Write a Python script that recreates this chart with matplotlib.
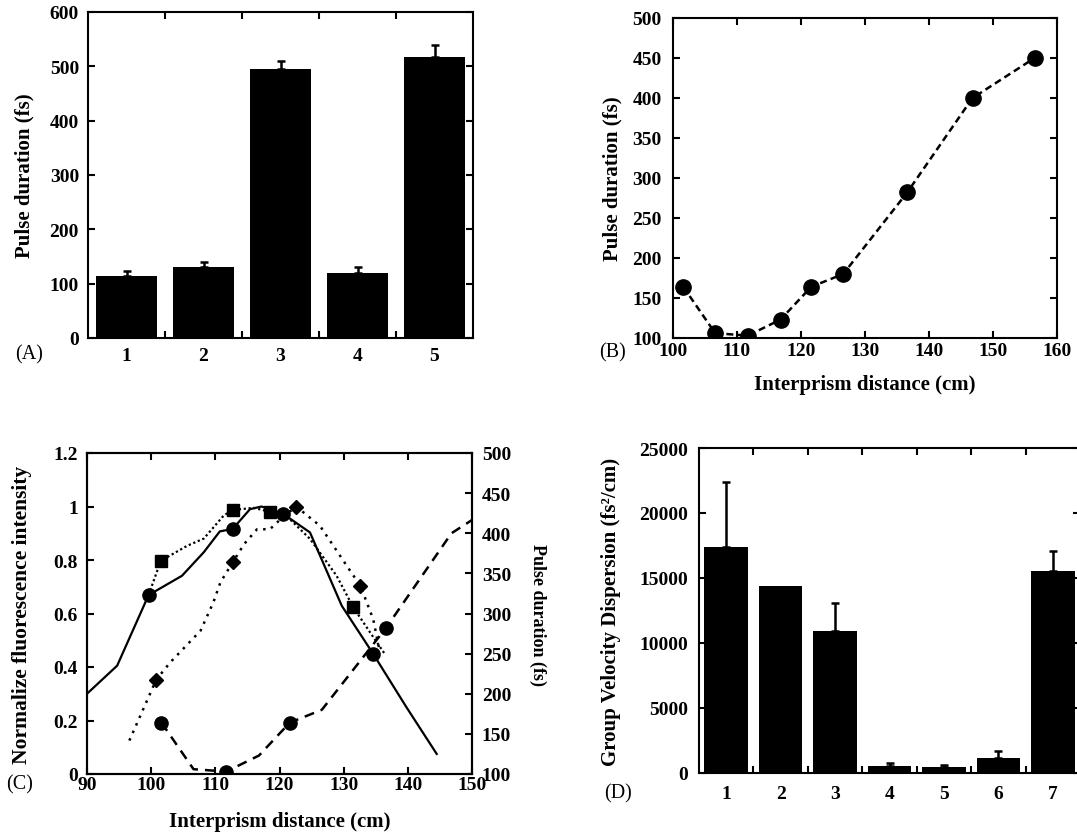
import matplotlib
matplotlib.use('Agg')
import matplotlib.pyplot as plt
from matplotlib.ticker import FixedLocator, FuncFormatter

plt.rcParams['font.family'] = ['Liberation Serif', 'DejaVu Serif']
plt.rcParams['font.weight'] = 'bold'
plt.rcParams['axes.labelweight'] = 'bold'
plt.rcParams['axes.linewidth'] = 1.5

# (A) pulse duration for each condition
a_cond = [1, 2, 3, 4, 5]
a_pulse = [114, 130, 495, 120, 518]
a_err = [9, 10, 15, 11, 21]

# (B) pulse duration vs interprism distance
b_dist = [101.6, 106.6, 111.7, 116.8, 121.6, 126.6, 136.6, 146.8, 156.5]
b_pulse = [164, 106, 103, 123, 164, 180, 282, 400, 450]
b_marks_c = [0, 2, 4, 6]   # points marked again in panel C

# (C) normalized fluorescence intensity, three curves
c1_dist = [90, 94.7, 99.6, 104.8, 108.2, 110.7, 112.7, 115.4, 117.2, 120.6,
           124.75, 129.7, 134.6, 139.8, 144.5]
c1_int = [0.30, 0.405, 0.669, 0.741, 0.829, 0.907, 0.916, 0.99, 1.0, 0.972,
          0.903, 0.629, 0.449, 0.249, 0.075]
c1_marks = [2, 6, 9, 12]

c2_dist = [99.6, 101.5, 105.6, 108.2, 111.3, 112.7, 116.0, 118.5, 121.6,
           124.75, 128.9, 131.5, 134.1, 136.4]
c2_int = [0.669, 0.797, 0.853, 0.88, 0.966, 0.987, 0.995, 0.98, 0.953,
          0.879, 0.741, 0.623, 0.53, 0.449]
c2_marks = [1, 5, 7, 11]

c3_dist = [96.6, 100.8, 103.0, 107.7, 109.7, 110.8, 112.7, 114.5, 116.5,
           118.5, 120.5, 122.6, 126.3, 131.0, 132.6, 134.6, 135.6]
c3_int = [0.125, 0.353, 0.418, 0.536, 0.642, 0.717, 0.791, 0.86, 0.915,
          0.915, 0.96, 1.0, 0.928, 0.76, 0.704, 0.579, 0.46]
c3_marks = [1, 6, 11, 14]

# (D) group velocity dispersion for each condition
d_cond = [1, 2, 3, 4, 5, 6, 7]
d_gvd = [17420, 14370, 10910, 510, 440, 1150, 15520]
d_err = [4940, 0, 2180, 280, 200, 540, 1590]

W, H = 1077, 837


def px_axes(l, t, r, b):
    return [l / W, 1 - b / H, (r - l) / W, (b - t) / H]


def style_ticks(ax, pad_x, pad_y):
    ax.tick_params(which='both', direction='in', width=1.5, labelsize=14)
    ax.tick_params(which='major', length=5)
    ax.tick_params(which='minor', length=5)
    ax.tick_params(axis='x', pad=pad_x)
    ax.tick_params(axis='y', pad=pad_y)


fmt_g = FuncFormatter(lambda v, p: '%g' % v)

fig = plt.figure(figsize=(W / 100, H / 100), dpi=100)

# ---- panel A
ax_a = fig.add_axes(px_axes(88, 13, 473, 339))
ax_a.bar(a_cond, a_pulse, width=0.78, color='black')
ax_a.errorbar(a_cond, a_pulse, yerr=[[0] * len(a_err), a_err], fmt='none',
              ecolor='black', elinewidth=1.8, capsize=3, capthick=1.8)
ax_a.set_xlim(0.5, 5.5)
ax_a.set_ylim(0, 600)
ax_a.xaxis.set_major_locator(FixedLocator(a_cond))
ax_a.xaxis.set_minor_locator(FixedLocator([1.5, 2.5, 3.5, 4.5]))
ax_a.yaxis.set_major_locator(FixedLocator(range(0, 601, 100)))
style_ticks(ax_a, 6.5, 6.5)
ax_a.tick_params(axis='x', which='major', length=0)
ax_a.tick_params(which='both', top=True, right=True)
ax_a.set_ylabel('Pulse duration (fs)', fontsize=15)
ax_a.yaxis.set_label_coords(-0.164, 0.5)
ax_a.yaxis.label.set_va('center')

# ---- panel B
ax_b = fig.add_axes(px_axes(673, 19, 1057, 339))
ax_b.plot(b_dist, b_pulse, color='black', lw=1.8, ls=(0, (2.8, 1.7)),
          marker='o', ms=11, zorder=3)
ax_b.set_xlim(100, 160)
ax_b.set_ylim(100, 500)
ax_b.xaxis.set_major_locator(FixedLocator(range(100, 161, 10)))
ax_b.yaxis.set_major_locator(FixedLocator(range(100, 501, 50)))
style_ticks(ax_b, 3, 8)
ax_b.tick_params(which='both', top=True, right=True)
ax_b.set_ylabel('Pulse duration (fs)', fontsize=15)
ax_b.yaxis.set_label_coords((612 - 673) / 384, 0.5)
ax_b.yaxis.label.set_va('center')
ax_b.set_xlabel('Interprism distance (cm)', fontsize=15)
ax_b.xaxis.set_label_coords(0.5, -(385 - 339) / 320)
ax_b.xaxis.label.set_va('center')

# ---- panel C
ax_c = fig.add_axes(px_axes(87, 454, 472, 775))
ax_c.plot(c1_dist, c1_int, color='black', lw=1.6, ls='-',
          marker='o', ms=9.5, markevery=c1_marks, zorder=3)
ax_c.plot(c2_dist, c2_int, color='black', lw=1.6, ls=(0, (1, 1.2)),
          marker='s', ms=9, markevery=c2_marks, zorder=3)
ax_c.plot(c3_dist, c3_int, color='black', lw=1.8, ls=(0, (1, 2.3)),
          marker='D', ms=7, markevery=c3_marks, zorder=3)
ax_c.set_xlim(90, 150)
ax_c.set_ylim(0, 1.2)
ax_c.xaxis.set_major_locator(FixedLocator(range(90, 151, 10)))
ax_c.yaxis.set_major_locator(FixedLocator([0, 0.2, 0.4, 0.6, 0.8, 1.0, 1.2]))
ax_c.yaxis.set_major_formatter(fmt_g)
style_ticks(ax_c, 1.5, 6.5)
ax_c.tick_params(axis='x', top=True)
ax_c.set_ylabel('Normalize fluorescence intensity', fontsize=15.5)
ax_c.yaxis.set_label_coords((22 - 87) / 385, 0.5)
ax_c.yaxis.label.set_va('center')
ax_c.set_xlabel('Interprism distance (cm)', fontsize=15)
ax_c.xaxis.set_label_coords(0.5, -(822 - 775) / 321)
ax_c.xaxis.label.set_va('center')

ax_c2 = ax_c.twinx()
ax_c2.plot(b_dist, b_pulse, color='black', lw=1.8, ls=(0, (4, 2.8)),
           marker='o', ms=9.5, markevery=b_marks_c, zorder=3)
ax_c2.set_ylim(100, 500)
ax_c2.yaxis.set_major_locator(FixedLocator(range(100, 501, 50)))
style_ticks(ax_c2, 1.5, 7)
ax_c2.set_ylabel('Pulse duration (fs)', fontsize=13, rotation=-90)
ax_c2.yaxis.set_label_coords((538 - 87) / 385, 0.5)
ax_c2.yaxis.label.set_va('center')

# ---- panel D (right edge runs past the figure, as in the scan)
ax_d = fig.add_axes(px_axes(699, 449, 1080, 774))
ax_d.bar(d_cond, d_gvd, width=0.8, color='black')
d_idx = [i for i, e in enumerate(d_err) if e > 0]
ax_d.errorbar([d_cond[i] for i in d_idx], [d_gvd[i] for i in d_idx],
              yerr=[[0] * len(d_idx), [d_err[i] for i in d_idx]], fmt='none',
              ecolor='black', elinewidth=1.8, capsize=3, capthick=1.8)
ax_d.set_xlim(0.5, 7.5)
ax_d.set_ylim(0, 25000)
ax_d.xaxis.set_major_locator(FixedLocator(d_cond))
ax_d.xaxis.set_minor_locator(FixedLocator([1.5, 2.5, 3.5, 4.5, 5.5, 6.5]))
ax_d.yaxis.set_major_locator(FixedLocator(range(0, 25001, 5000)))
style_ticks(ax_d, 9, 8)
ax_d.tick_params(axis='x', which='major', length=0)
ax_d.tick_params(which='both', top=True, right=True)
ax_d.set_ylabel('Group Velocity Dispersion (fs\u00b2/cm)', fontsize=15)
ax_d.yaxis.set_label_coords((611 - 699) / 381, 0.5)
ax_d.yaxis.label.set_va('center')

# panel letters
for lab, x, y in [('(A)', 29, 355), ('(B)', 613, 353), ('(C)', 20, 785), ('(D)', 618, 794)]:
    fig.text(x / W, 1 - y / H, lab, fontsize=14.5, fontweight='normal',
             ha='center', va='center')

fig.savefig('out.png', dpi=100)
